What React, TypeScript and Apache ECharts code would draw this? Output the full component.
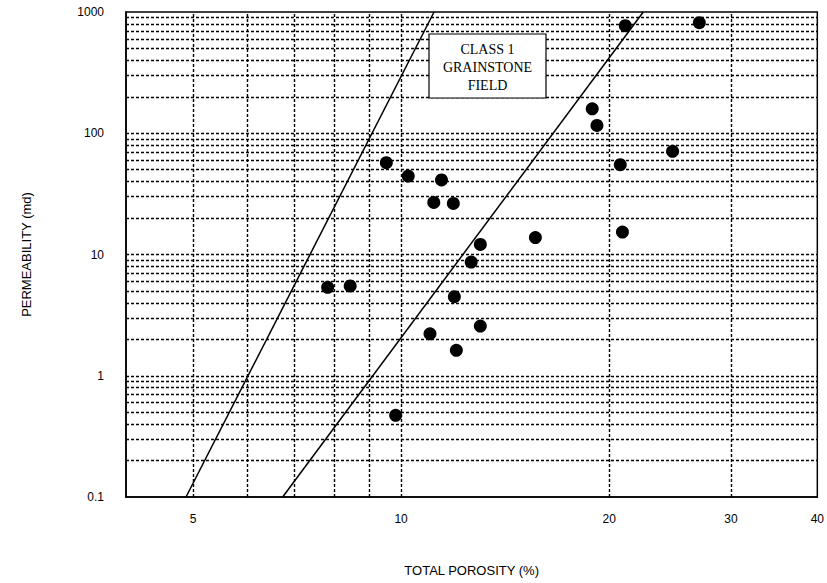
import React, { useEffect, useRef } from "react";
import * as echarts from "echarts";

// Scatter data (total porosity %, permeability md)
const porosity = [21.1, 27.0, 18.9, 19.2, 24.7, 20.75, 10.24, 11.44, 9.52, 11.15, 11.9, 15.64, 20.9, 13.02, 12.63, 11.94, 13.02, 11.01, 12.02, 7.83, 8.44, 9.82];
const permeability = [771, 816, 159, 116, 71, 55, 44.4, 41.2, 57.2, 26.9, 26.4, 13.8, 15.3, 12.1, 8.67, 4.49, 2.57, 2.22, 1.62, 5.36, 5.5, 0.472];

// Two boundary lines of the grainstone field
const line1Porosity = [4.885, 11.16];
const line1Perm = [0.1, 1000];
const line2Porosity = [6.74, 22.4];
const line2Perm = [0.1, 1000];

// Axis ticks / grid
const xTickLabels = [5, 10, 20, 30, 40];
const yTickLabels = [0.1, 1, 10, 100, 1000];
const xGridValues = [5, 6, 7, 8, 9, 10, 20, 30];
const yGridValues = [
  0.2, 0.3, 0.4, 0.5, 0.6, 0.7, 0.8, 0.9,
  1, 2, 3, 4, 5, 6, 7, 8, 9,
  10, 20, 30, 40, 50, 60, 70, 80, 90,
  100, 200, 300, 400, 500, 600, 700, 800, 900,
];
const boxLines = ["CLASS 1", "GRAINSTONE", "FIELD"];

const fmt = (v: number) => String(+Number(v).toPrecision(6));

export default function App() {
  const ref = useRef<HTMLDivElement>(null);
  useEffect(() => {
    if (!ref.current) return;
    const chart = echarts.init(ref.current, null, { renderer: "svg" });
    const gridStyle = { color: "#000", width: 1.4, type: [3, 2] as any };
    const sans = "Liberation Sans";
    chart.setOption({
      animation: false,
      backgroundColor: "#fff",
      grid: {
        left: 126, right: 8, top: 12, bottom: 86,
        show: true, borderColor: "#000", borderWidth: 1.5, backgroundColor: "transparent",
      },
      xAxis: {
        type: "log", logBase: 10, min: 4, max: 40,
        name: "TOTAL POROSITY (%)", nameLocation: "middle", nameGap: 67,
        nameTextStyle: { fontFamily: sans, fontSize: 13, color: "#000" },
        axisLine: { show: true, lineStyle: { color: "#000", width: 1.5 } },
        axisTick: { show: false },
        splitLine: { show: false },
        minorSplitLine: { show: false },
        axisLabel: {
          customValues: xTickLabels, margin: 16, formatter: fmt,
          fontFamily: sans, fontSize: 12, color: "#000",
        },
      },
      yAxis: {
        type: "log", logBase: 10, min: 0.1, max: 1000,
        name: "PERMEABILITY (md)", nameLocation: "middle", nameGap: 93, nameRotate: 90,
        nameTextStyle: { fontFamily: sans, fontSize: 13, color: "#000" },
        axisLine: { show: true, lineStyle: { color: "#000", width: 1.5 } },
        axisTick: { show: false },
        splitLine: { show: false },
        minorSplitLine: { show: false },
        axisLabel: {
          customValues: yTickLabels, margin: 22, formatter: fmt,
          fontFamily: sans, fontSize: 12, color: "#000",
        },
      },
      series: [
        {
          type: "line",
          data: [],
          silent: true,
          z: 1,
          markLine: {
            silent: true,
            symbol: "none",
            label: { show: false },
            lineStyle: gridStyle,
            data: [
              ...xGridValues.map((v) => ({ xAxis: v })),
              ...yGridValues.map((v) => ({ yAxis: v })),
            ],
          },
        },
        {
          type: "line",
          data: line1Porosity.map((x, i) => [x, line1Perm[i]]),
          symbol: "none",
          lineStyle: { color: "#000", width: 1.5 },
          z: 3,
        },
        {
          type: "line",
          data: line2Porosity.map((x, i) => [x, line2Perm[i]]),
          symbol: "none",
          lineStyle: { color: "#000", width: 1.5 },
          z: 3,
        },
        {
          type: "scatter",
          data: porosity.map((x, i) => [x, permeability[i]]),
          symbol: "circle",
          symbolSize: 13,
          itemStyle: { color: "#000", opacity: 1 },
          z: 4,
        },
      ],
      graphic: [
        {
          type: "rect",
          x: 429,
          y: 34,
          z: 100,
          shape: { x: 0, y: 0, width: 117, height: 64 },
          style: { fill: "#fff", stroke: "#000", lineWidth: 1.2 },
        },
        ...boxLines.map((t, i) => ({
          type: "text",
          x: 487.5,
          y: 49 + i * 18,
          z: 101,
          style: {
            text: t,
            fill: "#000",
            font: '14px "Liberation Serif"',
            textAlign: "center",
            textVerticalAlign: "middle",
          },
        })),
      ],
    });
    return () => chart.dispose();
  }, []);
  return (
    <div
      ref={ref}
      style={{ position: "fixed", left: 0, top: 0, width: 827, height: 583 }}
    />
  );
}
